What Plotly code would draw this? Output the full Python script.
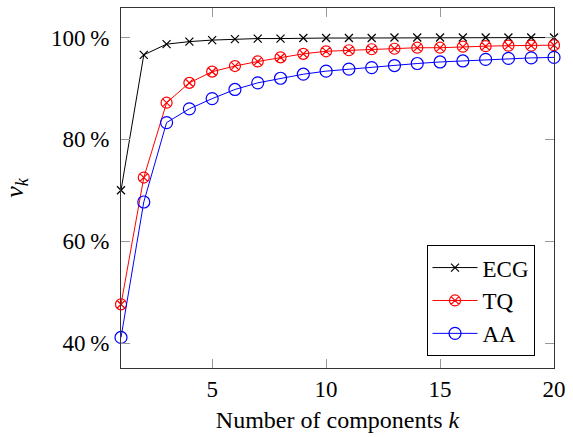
import plotly.graph_objects as go

k = list(range(1, 21))
ecg = [70.0, 96.6, 98.7, 99.2, 99.5, 99.7, 99.8, 99.8, 99.9, 99.9, 99.9, 99.9, 100.0, 100.0, 100.0, 100.0, 100.0, 100.0, 100.0, 100.0]
tq = [47.6, 72.5, 87.2, 91.1, 93.3, 94.4, 95.3, 96.1, 96.8, 97.3, 97.5, 97.7, 97.8, 98.0, 98.0, 98.2, 98.3, 98.4, 98.4, 98.5]
aa = [41.1, 67.7, 83.3, 86.0, 88.0, 89.8, 91.1, 92.0, 92.8, 93.4, 93.8, 94.1, 94.5, 94.9, 95.2, 95.4, 95.7, 95.9, 96.0, 96.1]
ytick_vals = [40, 60, 80, 100]
ytick_text = ["40\u2009%", "60\u2009%", "80\u2009%", "100\u2009%"]
xtick_vals = [5, 10, 15, 20]

font = "Liberation Serif"

fig = go.Figure()
fig.add_trace(go.Scatter(x=k, y=ecg, name="ECG", mode="lines+markers", cliponaxis=False,
                         line=dict(color="black", width=1),
                         marker=dict(symbol="x-thin", size=8, color="black",
                                     line=dict(color="black", width=1.2))))
fig.add_trace(go.Scatter(x=k, y=tq, name="TQ", mode="lines+markers", cliponaxis=False,
                         line=dict(color="red", width=1),
                         marker=dict(symbol="circle-x-open", size=11, color="red",
                                     line=dict(color="red", width=1.2))))
fig.add_trace(go.Scatter(x=k, y=aa, name="AA", mode="lines+markers", cliponaxis=False,
                         line=dict(color="blue", width=1),
                         marker=dict(symbol="circle-open", size=12, color="blue",
                                     line=dict(color="blue", width=1.2))))

axis_common = dict(showgrid=False, zeroline=False, showline=True, linecolor="#333",
                   linewidth=1.2, mirror="ticks", ticks="inside", ticklen=9,
                   tickcolor="#999", tickwidth=1.2,
                   tickfont=dict(family=font, size=23, color="black"))

fig.update_xaxes(range=[1, 20], tickvals=xtick_vals,
                 title=dict(text="Number of components <i>k</i>",
                            font=dict(family=font, size=24, color="black"), standoff=10),
                 **axis_common)
fig.update_yaxes(range=[35.1, 105.8], tickvals=ytick_vals, ticktext=ytick_text,
                 ticklabelstandoff=6,
                 title=dict(text="<i>v</i><sub><i>k</i></sub>",
                            font=dict(family=font, size=26, color="black"), standoff=22),
                 **axis_common)

fig.update_layout(
    width=573, height=437,
    margin=dict(l=121, r=14, t=7, b=69),
    plot_bgcolor="white", paper_bgcolor="white",
    font=dict(family=font, color="black"),
    legend=dict(x=0.955, y=0.033, xanchor="right", yanchor="bottom",
                bordercolor="black", borderwidth=1, bgcolor="white",
                font=dict(family=font, size=23, color="black"),
                itemwidth=45, tracegroupgap=0),
    showlegend=True,
)

fig.write_html("out.html")
